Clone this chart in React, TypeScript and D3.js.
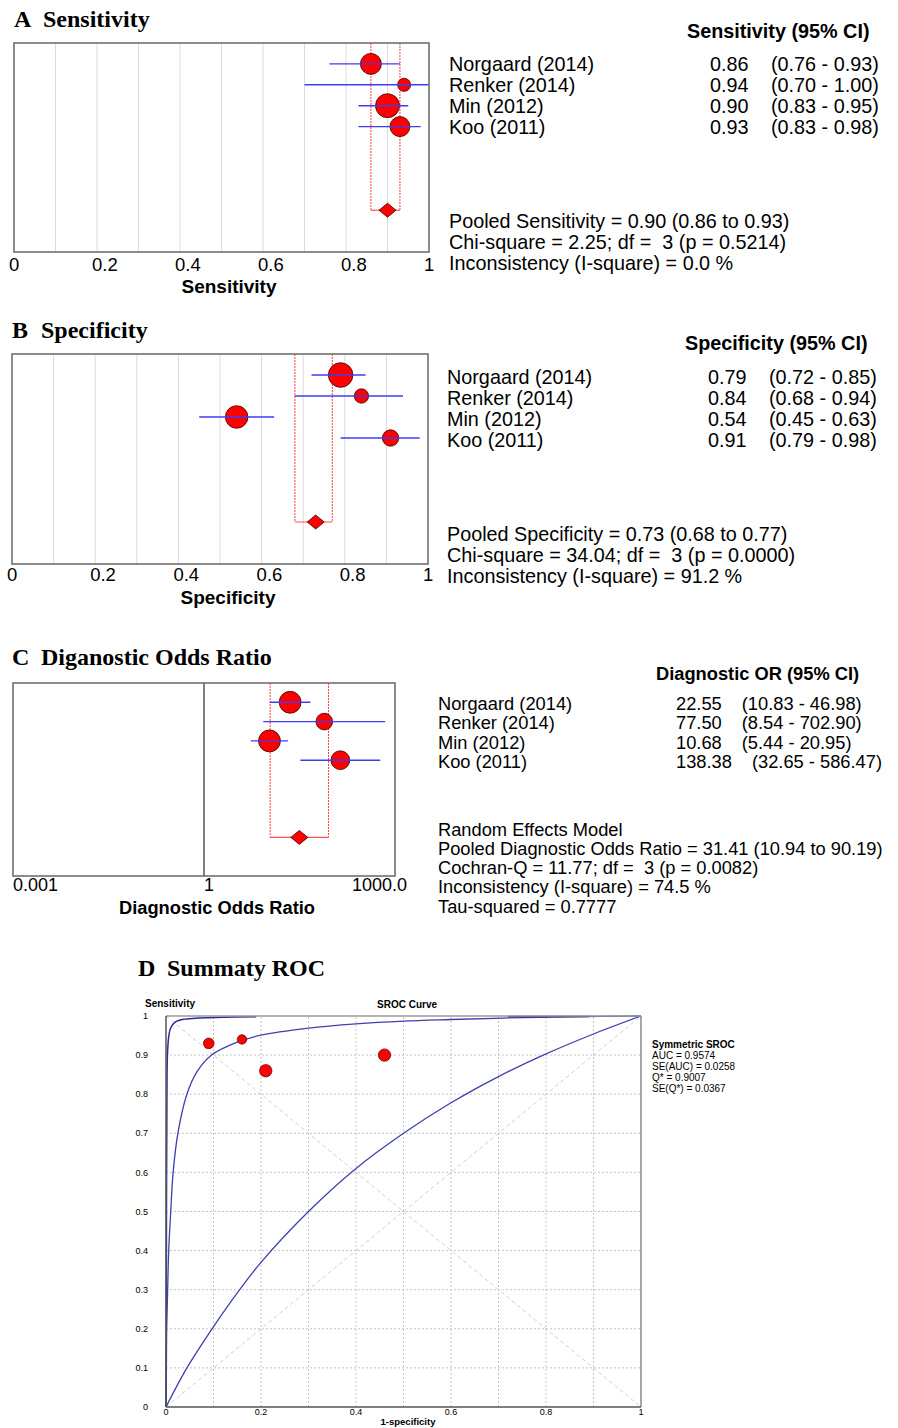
import React from "react";
import * as d3 from "d3";

// ---- data ----
const studies = ["Norgaard (2014)", "Renker (2014)", "Min (2012)", "Koo (2011)"];

const sensEst = [0.86, 0.94, 0.9, 0.93];
const sensLo = [0.76, 0.7, 0.83, 0.83];
const sensHi = [0.93, 1.0, 0.95, 0.98];
const sensWeight = [27.8, 10.7, 36.3, 25.2];
const sensPooled = [0.9, 0.86, 0.93]; // estimate, lo, hi
const sensStats = [
  "Pooled Sensitivity = 0.90 (0.86 to 0.93)",
  "Chi-square = 2.25; df =  3 (p = 0.5214)",
  "Inconsistency (I-square) = 0.0 %",
];

const specEst = [0.79, 0.84, 0.54, 0.91];
const specLo = [0.72, 0.68, 0.45, 0.79];
const specHi = [0.85, 0.94, 0.63, 0.98];
const specWeight = [38.1, 13.0, 32.0, 16.9];
const specPooled = [0.73, 0.68, 0.77];
const specStats = [
  "Pooled Specificity = 0.73 (0.68 to 0.77)",
  "Chi-square = 34.04; df =  3 (p = 0.0000)",
  "Inconsistency (I-square) = 91.2 %",
];

const dorEst = [22.55, 77.5, 10.68, 138.38];
const dorLo = [10.83, 8.54, 5.44, 32.65];
const dorHi = [46.98, 702.9, 20.95, 586.47];
const dorWeight = [30.2, 17.5, 30.2, 22.2];
const dorPooled = [31.41, 10.94, 90.19];
const dorStats = [
  "Random Effects Model",
  "Pooled Diagnostic Odds Ratio = 31.41 (10.94 to 90.19)",
  "Cochran-Q = 11.77; df =  3 (p = 0.0082)",
  "Inconsistency (I-square) = 74.5 %",
  "Tau-squared = 0.7777",
];

const propTicks = [0, 0.2, 0.4, 0.6, 0.8, 1];
const propTickLabels = ["0", "0.2", "0.4", "0.6", "0.8", "1"];
const dorTicks = [0.001, 1, 1000];
const dorTickLabels = ["0.001", "1", "1000.0"];

// SROC (1-specificity, sensitivity)
const srocFpr = [0.21, 0.16, 0.46, 0.09];
const srocSens = [0.86, 0.94, 0.9, 0.93];
const srocCurve: [number, number][] = [
  [0, 0], [0.0008, 0.1], [0.0014, 0.2], [0.0035, 0.3], [0.0057, 0.4], [0.01, 0.5],
  [0.015, 0.6], [0.025, 0.7], [0.044, 0.8], [0.065, 0.857], [0.096, 0.9],
  [0.15, 0.933], [0.2, 0.951], [0.3, 0.969], [0.4, 0.98], [0.5, 0.987],
  [0.6, 0.991], [0.72, 0.995], [0.85, 0.998], [1, 1],
];
const srocUpper: [number, number][] = [
  [0, 0], [0.0005, 0.1], [0.001, 0.5], [0.002, 0.8], [0.003, 0.9], [0.006, 0.95],
  [0.01, 0.97], [0.02, 0.985], [0.04, 0.992], [0.07, 0.995], [0.12, 0.997], [0.19, 0.998],
];
const srocUpperTail: [number, number][] = [[0.72, 0.999], [0.89, 0.999]];
const srocLower: [number, number][] = [
  [0, 0], [0.044, 0.1], [0.097, 0.2], [0.152, 0.295], [0.2, 0.37], [0.3, 0.5],
  [0.4, 0.61], [0.5, 0.7], [0.6, 0.778], [0.7, 0.845], [0.8, 0.903],
  [0.9, 0.954], [1, 1],
];
const srocStats = ["Symmetric SROC", "AUC = 0.9574", "SE(AUC) = 0.0258", "Q* = 0.9007", "SE(Q*) = 0.0367"];
const srocYTicks = d3.range(0, 11).map((i) => i / 10);
const srocYLabels = ["0", "0.1", "0.2", "0.3", "0.4", "0.5", "0.6", "0.7", "0.8", "0.9", "1"];
const srocXTicks = [0, 0.2, 0.4, 0.6, 0.8, 1];
const srocXLabels = ["0", "0.2", "0.4", "0.6", "0.8", "1"];

const SANS = "'Liberation Sans', Arial, Helvetica, sans-serif";
const SERIF = "'Liberation Serif', 'Times New Roman', serif";
const RED = "#ff0000";
const BLUE = "#3c3cf5";

const fmt2 = d3.format(".2f");
const sizeScale = d3.scaleSqrt().domain([0, 40]).range([0, 12.6]);

type ForestProps = {
  letter: string;
  title: string;
  titleX: number;
  titleY: number;
  box: { x0: number; x1: number; y0: number; y1: number };
  log?: boolean;
  domain: [number, number];
  est: number[];
  lo: number[];
  hi: number[];
  weight: number[];
  pooled: number[];
  grid?: boolean;
  refLine?: number;
  ticks: number[];
  tickLabels: string[];
  tickY: number;
  tickSize: number;
  axisTitle: string;
  axisTitleX: number;
  axisTitleY: number;
  axisTitleSize: number;
  textSize: number;
  header: string;
  headerX: number;
  headerY: number;
  nameX: number;
  valX: number;
  ciX?: number;
  rowY: number;
  rowStep: number;
  stats: string[];
  statsY: number;
  statsStep: number;
};

function ForestPanel(p: ForestProps) {
  const x = p.log
    ? d3.scaleLog().domain(p.domain).range([p.box.x0, p.box.x1])
    : d3.scaleLinear().domain(p.domain).range([p.box.x0, p.box.x1]);
  const y = d3.scaleLinear().domain([-1, 9]).range([p.box.y0, p.box.y1]);
  const pooledRow = 7;
  const [pe, pl, ph] = p.pooled;
  const dy = y(pooledRow);
  const diamond = `M${x(pe) - 8.5},${dy} L${x(pe)},${dy - 7} L${x(pe) + 8.5},${dy} L${x(pe)},${dy + 7} Z`;
  const gridVals = p.grid ? d3.range(1, 10).map((i) => i / 10) : [];

  return (
    <g>
      <text x={p.titleX} y={p.titleY} fontFamily={SERIF} fontWeight="bold" fontSize={24}>
        {p.letter}
      </text>
      <text x={p.titleX + 29} y={p.titleY} fontFamily={SERIF} fontWeight="bold" fontSize={24}>
        {p.title}
      </text>

      {gridVals.map((g) => (
        <line key={g} x1={x(g)} x2={x(g)} y1={p.box.y0} y2={p.box.y1} stroke="#dcdcdc" strokeWidth={1} />
      ))}
      {p.refLine !== undefined && (
        <line x1={x(p.refLine)} x2={x(p.refLine)} y1={p.box.y0} y2={p.box.y1} stroke="#000" strokeWidth={1} />
      )}

      {/* pooled bounds */}
      <line x1={x(pl)} x2={x(pl)} y1={p.box.y0} y2={dy} stroke="#ff3b3b" strokeWidth={1} strokeDasharray="2,1" />
      <line x1={x(ph)} x2={x(ph)} y1={p.box.y0} y2={dy} stroke="#ff3b3b" strokeWidth={1} strokeDasharray="2,1" />
      <line x1={x(pl)} x2={x(ph)} y1={dy} y2={dy} stroke="#ff5050" strokeWidth={1.2} />

      {p.est.map((e, i) => (
        <circle key={i} cx={x(e)} cy={y(i)} r={sizeScale(p.weight[i])} fill={RED} stroke="#3a0000" strokeWidth={0.8} />
      ))}
      {p.est.map((e, i) => (
        <line key={i} x1={x(p.lo[i])} x2={x(p.hi[i])} y1={y(i)} y2={y(i)} stroke={BLUE} strokeWidth={1.4} />
      ))}
      <path d={diamond} fill={RED} stroke="#3a0000" strokeWidth={0.8} />

      <rect
        x={p.box.x0}
        y={p.box.y0}
        width={p.box.x1 - p.box.x0}
        height={p.box.y1 - p.box.y0}
        fill="none"
        stroke="#707070"
        strokeWidth={1.6}
      />

      {p.ticks.map((t, i) => {
        const last = i === p.ticks.length - 1;
        const anchor = p.log && last ? "end" : "start";
        const dx = p.log ? (last ? 12 : 0) : -5;
        return (
          <text key={t} x={x(t) + dx} y={p.tickY} textAnchor={anchor} fontFamily={SANS} fontSize={p.tickSize}>
            {p.tickLabels[i]}
          </text>
        );
      })}
      <text
        x={p.axisTitleX}
        y={p.axisTitleY}
        textAnchor="middle"
        fontFamily={SANS}
        fontWeight="bold"
        fontSize={p.axisTitleSize}
      >
        {p.axisTitle}
      </text>

      {/* right-hand table */}
      <text x={p.headerX} y={p.headerY} fontFamily={SANS} fontWeight="bold" fontSize={p.textSize}>
        {p.header}
      </text>
      {studies.map((s, i) => {
        const yy = p.rowY + i * p.rowStep;
        const ci = `(${fmt2(p.lo[i])} - ${fmt2(p.hi[i])})`;
        return (
          <g key={s} fontFamily={SANS} fontSize={p.textSize}>
            <text x={p.nameX} y={yy}>{s}</text>
            {p.ciX !== undefined ? (
              <>
                <text x={p.valX} y={yy}>{fmt2(p.est[i])}</text>
                <text x={p.ciX} y={yy}>{ci}</text>
              </>
            ) : (
              <text x={p.valX} y={yy}>
                {fmt2(p.est[i])}
                <tspan dx={20}>{ci}</tspan>
              </text>
            )}
          </g>
        );
      })}
      {p.stats.map((s, i) => (
        <text
          key={i}
          x={p.nameX}
          y={p.statsY + i * p.statsStep}
          fontFamily={SANS}
          fontSize={p.textSize}
          style={{ whiteSpace: "pre" }}
        >
          {s}
        </text>
      ))}
    </g>
  );
}

function SrocPanel() {
  const x = d3.scaleLinear().domain([0, 1]).range([166, 641]);
  const y = d3.scaleLinear().domain([0, 1]).range([1407, 1016]);
  const line = d3
    .line<[number, number]>()
    .x((d) => x(d[0]))
    .y((d) => y(d[1]))
    .curve(d3.curveCatmullRom.alpha(0.5));
  const grid = d3.range(1, 10).map((i) => i / 10);
  const dSize = d3.scaleSqrt().domain([0, 32]).range([0, 6.4]);

  return (
    <g>
      <text x={138} y={976} fontFamily={SERIF} fontWeight="bold" fontSize={24}>D</text>
      <text x={167} y={976} fontFamily={SERIF} fontWeight="bold" fontSize={24}>Summaty ROC</text>

      <text x={145} y={1007} fontFamily={SANS} fontWeight="bold" fontSize={10}>Sensitivity</text>
      <text x={407} y={1008} textAnchor="middle" fontFamily={SANS} fontWeight="bold" fontSize={10}>SROC Curve</text>

      {grid.map((g) => (
        <g key={g}>
          <line x1={x(g)} x2={x(g)} y1={y(0)} y2={y(1)} stroke="#c4c4c4" strokeWidth={1} strokeDasharray="2,2" />
          <line x1={x(0)} x2={x(1)} y1={y(g)} y2={y(g)} stroke="#c4c4c4" strokeWidth={1} strokeDasharray="2,2" />
        </g>
      ))}
      <line x1={x(0)} y1={y(0)} x2={x(1)} y2={y(1)} stroke="#d0d0d0" strokeWidth={1} strokeDasharray="4,3" />
      <line x1={x(0)} y1={y(1)} x2={x(1)} y2={y(0)} stroke="#d0d0d0" strokeWidth={1} strokeDasharray="4,3" />

      <path d={line(srocLower) || ""} fill="none" stroke="#3f3fb0" strokeWidth={1.3} />
      <path d={line(srocCurve) || ""} fill="none" stroke="#3f3fb0" strokeWidth={1.3} />
      <path d={line(srocUpper) || ""} fill="none" stroke="#2c2c9a" strokeWidth={1.5} />
      <path d={line(srocUpperTail) || ""} fill="none" stroke="#1c1c70" strokeWidth={1.5} />

      {srocFpr.map((f, i) => (
        <circle key={i} cx={x(f)} cy={y(srocSens[i])} r={dSize(dorWeight[i])} fill={RED} stroke="#5a0000" strokeWidth={0.7} />
      ))}

      {/* frame */}
      <line x1={x(0)} x2={x(1)} y1={y(1)} y2={y(1)} stroke="#9a9a9a" strokeWidth={1.5} />
      <line x1={x(1)} x2={x(1)} y1={y(0)} y2={y(1)} stroke="#8a8a8a" strokeWidth={1.5} />
      <line x1={x(0)} x2={x(0)} y1={y(0)} y2={y(1)} stroke="#555" strokeWidth={1.5} />
      <line x1={x(0)} x2={x(1)} y1={y(0)} y2={y(0)} stroke="#555" strokeWidth={1.5} />

      {srocYTicks.map((t, i) => (
        <text key={t} x={148} y={y(t)} dy="0.35em" textAnchor="end" fontFamily={SANS} fontSize={9}>
          {srocYLabels[i]}
        </text>
      ))}
      {srocXTicks.map((t, i) => (
        <text key={t} x={x(t)} y={1415} textAnchor="middle" fontFamily={SANS} fontSize={9}>
          {srocXLabels[i]}
        </text>
      ))}
      <text x={408} y={1425} textAnchor="middle" fontFamily={SANS} fontWeight="bold" fontSize={9.5}>
        1-specificity
      </text>

      {srocStats.map((s, i) => (
        <text
          key={i}
          x={652}
          y={1047.5 + i * 11}
          fontFamily={SANS}
          fontSize={10}
          fontWeight={i === 0 ? "bold" : "normal"}
        >
          {s}
        </text>
      ))}
    </g>
  );
}

export default function App() {
  return (
    <svg
      width={898}
      height={1428}
      style={{ position: "absolute", left: 0, top: 0, background: "#fff" }}
    >
      <rect width={898} height={1428} fill="#fff" />
      <ForestPanel
        letter="A"
        title="Sensitivity"
        titleX={14}
        titleY={27}
        box={{ x0: 14, x1: 429, y0: 43, y1: 252 }}
        domain={[0, 1]}
        est={sensEst}
        lo={sensLo}
        hi={sensHi}
        weight={sensWeight}
        pooled={sensPooled}
        grid
        ticks={propTicks}
        tickLabels={propTickLabels}
        tickY={270.5}
        tickSize={18.5}
        axisTitle="Sensitivity"
        axisTitleX={229}
        axisTitleY={293}
        axisTitleSize={19}
        textSize={19.8}
        header="Sensitivity (95% CI)"
        headerX={687}
        headerY={38}
        nameX={449}
        valX={710}
        ciX={771}
        rowY={70.5}
        rowStep={21}
        stats={sensStats}
        statsY={228}
        statsStep={21}
      />
      <ForestPanel
        letter="B"
        title="Specificity"
        titleX={12}
        titleY={338}
        box={{ x0: 12, x1: 428, y0: 354, y1: 564 }}
        domain={[0, 1]}
        est={specEst}
        lo={specLo}
        hi={specHi}
        weight={specWeight}
        pooled={specPooled}
        grid
        ticks={propTicks}
        tickLabels={propTickLabels}
        tickY={580.5}
        tickSize={18.5}
        axisTitle="Specificity"
        axisTitleX={228}
        axisTitleY={604}
        axisTitleSize={19}
        textSize={19.8}
        header="Specificity (95% CI)"
        headerX={685}
        headerY={350}
        nameX={447}
        valX={708}
        ciX={769}
        rowY={383.5}
        rowStep={21}
        stats={specStats}
        statsY={541}
        statsStep={21}
      />
      <ForestPanel
        letter="C"
        title="Diganostic Odds Ratio"
        titleX={12}
        titleY={665}
        box={{ x0: 13, x1: 395, y0: 683, y1: 876 }}
        log
        domain={[0.001, 1000]}
        est={dorEst}
        lo={dorLo}
        hi={dorHi}
        weight={dorWeight}
        pooled={dorPooled}
        refLine={1}
        ticks={dorTicks}
        tickLabels={dorTickLabels}
        tickY={891}
        tickSize={18}
        axisTitle="Diagnostic Odds Ratio"
        axisTitleX={217}
        axisTitleY={913.5}
        axisTitleSize={18.3}
        textSize={18.3}
        header="Diagnostic OR (95% CI)"
        headerX={656}
        headerY={680}
        nameX={438}
        valX={676}
        rowY={710}
        rowStep={19.3}
        stats={dorStats}
        statsY={835.5}
        statsStep={19.3}
      />
      <SrocPanel />
    </svg>
  );
}
